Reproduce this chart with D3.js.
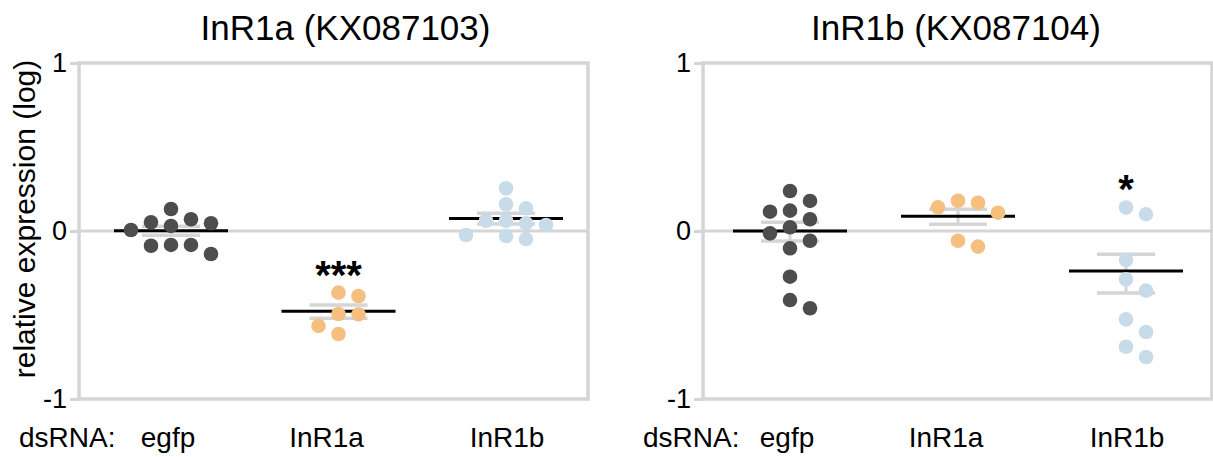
<!DOCTYPE html>
<html>
<head>
<meta charset="utf-8">
<script src="https://cdn.jsdelivr.net/npm/d3@7"></script>
<style>
  body { margin: 0; background: #fff; }
  text { font-family: "Liberation Sans", Arial, sans-serif; fill: #000; }
</style>
</head>
<body>
<div id="chart"></div>
<script>
// categories (dsRNA treatment) and panel titles
const groups = ["egfp", "InR1a", "InR1b"];
const panelTitles = ["InR1a (KX087103)", "InR1b (KX087104)"];
const tickValues = [-1, 0, 1];
const stars = [["", "***", ""], ["", "", "*"]];

// log10 relative expression
const inr1aEgfp  = [0.052, 0.030, 0.131, 0.006, 0.046, 0.070, -0.083, -0.137, -0.088, -0.083];
const inr1aInR1a = [-0.367, -0.387, -0.496, -0.494, -0.565, -0.613];
const inr1aInR1b = [0.254, 0.159, 0.135, 0.046, 0.061, 0.061, 0.036, -0.024, -0.048, -0.030];

const inr1bEgfp  = [0.121, 0.070, 0.179, 0.238, 0.115, -0.014, 0.022, -0.058, -0.103, -0.272, -0.411, -0.460];
const inr1bInR1a = [0.180, 0.141, 0.109, 0.168, -0.093, -0.058];
const inr1bInR1b = [0.100, 0.140, -0.173, -0.288, -0.355, -0.526, -0.601, -0.689, -0.750];

const panelData = [
  [inr1aEgfp, inr1aInR1a, inr1aInR1b],
  [inr1bEgfp, inr1bInR1a, inr1bInR1b]
];

const colors = ["#4d4d4d", "#f5c07f", "#c8dbe8"];
const gray = "#d5d5d5";

const W = 1213, H = 457;
const yTop = 63, yBottom = 399, frameW = 509;
const panelX = [79, 703];
const centerRange = [[92, 427], [87, 423]];
const titleShift = [7, -2];
const labelShift = [-3, -12, 1];
const r = 7.3, step = 20;

const svg = d3.select("#chart").append("svg")
    .attr("width", W)
    .attr("height", H);

const y = d3.scaleLinear().domain([-1, 1]).range([yBottom, yTop]);

// mean / sem computed on linear scale, drawn on log axis
function stats(vals) {
  const lin = vals.map(v => Math.pow(10, v));
  const m = d3.mean(lin);
  const sem = d3.deviation(lin) / Math.sqrt(lin.length);
  return { mean: Math.log10(m), hi: Math.log10(m + sem), lo: Math.log10(m - sem) };
}

// simple column swarm: slots 0, +1, -1, +2, -2 ...
function swarm(vals) {
  const placed = [];
  const order = vals.map((v, i) => i).sort((a, b) => vals[b] - vals[a]);
  const out = new Array(vals.length);
  const slots = [0, 1, -1, 2, -2, 3, -3];
  order.forEach(i => {
    const py = y(vals[i]);
    const slot = slots.find(s => !placed.some(p => p.s === s && Math.abs(p.y - py) < 2 * r));
    placed.push({ s: slot, y: py });
    out[i] = slot;
  });
  return out;
}

panelData.forEach((series, pi) => {
  const g = svg.append("g").attr("transform", `translate(${panelX[pi]},0)`);

  const x = d3.scalePoint().domain(groups).range(centerRange[pi]);

  // frame
  g.append("rect")
      .attr("x", 0).attr("y", yTop)
      .attr("width", frameW).attr("height", yBottom - yTop)
      .attr("fill", "none")
      .attr("stroke", gray)
      .attr("stroke-width", 3.5);

  // zero line
  g.append("line")
      .attr("x1", 0).attr("x2", frameW)
      .attr("y1", y(0)).attr("y2", y(0))
      .attr("stroke", gray)
      .attr("stroke-width", 3);

  // y axis
  const yAxis = g.append("g")
      .call(d3.axisLeft(y).tickValues(tickValues).tickSize(9).tickPadding(3).tickFormat(d => String(d)));
  yAxis.select(".domain").remove();
  yAxis.selectAll(".tick line").attr("stroke", gray).attr("stroke-width", 3);
  yAxis.selectAll(".tick text")
      .style("font-size", "27px")
      .style("font-family", "'Liberation Sans', Arial, sans-serif")
      .attr("fill", "#000");

  // title
  svg.append("text")
      .attr("x", panelX[pi] + x("InR1a") + titleShift[pi])
      .attr("y", 40)
      .attr("text-anchor", "middle")
      .style("font-size", "35px")
      .text(panelTitles[pi]);

  // x labels
  g.append("text")
      .attr("x", -60)
      .attr("y", 447)
      .style("font-size", "28px")
      .text("dsRNA:");
  g.selectAll(".xlab")
    .data(groups)
    .enter()
    .append("text")
      .attr("class", "xlab")
      .attr("x", (d, i) => x(d) + labelShift[i])
      .attr("y", 447)
      .attr("text-anchor", "middle")
      .style("font-size", "28px")
      .text(d => d);

  series.forEach((vals, gi) => {
    const cx = x(groups[gi]);
    const s = stats(vals);

    // sem bars
    g.append("line")
        .attr("x1", cx).attr("x2", cx)
        .attr("y1", y(s.hi)).attr("y2", y(s.lo))
        .attr("stroke", gray).attr("stroke-width", 3);
    [s.hi, s.lo].forEach(v => {
      g.append("line")
          .attr("x1", cx - 29).attr("x2", cx + 29)
          .attr("y1", y(v)).attr("y2", y(v))
          .attr("stroke", gray).attr("stroke-width", 3.5);
    });

    // mean
    g.append("line")
        .attr("x1", cx - 57).attr("x2", cx + 57)
        .attr("y1", y(s.mean)).attr("y2", y(s.mean))
        .attr("stroke", "#000").attr("stroke-width", 3);

    // points
    const slots = swarm(vals);
    g.selectAll(".dot" + gi)
      .data(vals)
      .enter()
      .append("circle")
        .attr("cx", (d, i) => cx + slots[i] * step)
        .attr("cy", d => y(d))
        .attr("r", r)
        .attr("fill", colors[gi]);

    // significance
    if (stars[pi][gi]) {
      g.append("text")
          .attr("x", cx)
          .attr("y", y(d3.max(vals)) - 4)
          .attr("text-anchor", "middle")
          .style("font-size", "40px")
          .style("font-weight", "bold")
          .text(stars[pi][gi]);
    }
  });
});

// y axis title
svg.append("text")
    .attr("transform", `translate(35,${(yTop + yBottom) / 2 - 12}) rotate(-90)`)
    .attr("text-anchor", "middle")
    .style("font-size", "30px")
    .text("relative expression (log)");
</script>
</body>
</html>
